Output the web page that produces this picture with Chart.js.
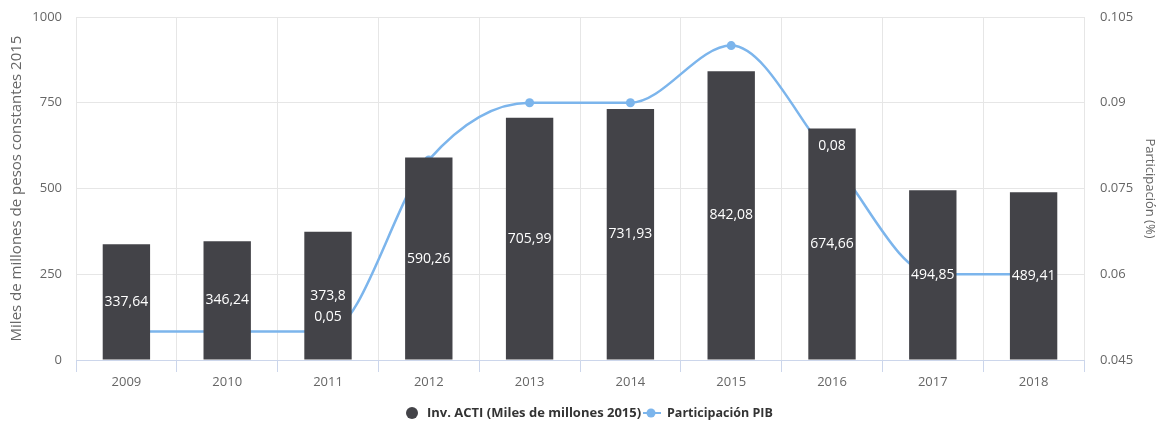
<!DOCTYPE html>
<html>
<head>
<meta charset="utf-8">
<script src="https://cdn.jsdelivr.net/npm/chart.js@4/dist/chart.umd.min.js"></script>
<style>
  html, body { margin: 0; padding: 0; background: #ffffff; }
  #wrap { width: 1160px; height: 427px; position: relative; }
</style>
</head>
<body>
<div id="wrap"><canvas id="c" width="1160" height="427"></canvas></div>
<script>
const categories = ["2009", "2010", "2011", "2012", "2013", "2014", "2015", "2016", "2017", "2018"];
const invActi = [337.64, 346.24, 373.8, 590.26, 705.99, 731.93, 842.08, 674.66, 494.85, 489.41];
const participacionPIB = [0.05, 0.05, 0.05, 0.08, 0.09, 0.09, 0.10, 0.08, 0.06, 0.06];
const leftTicks = ["0", "250", "500", "750", "1000"];
const rightTicks = ["0.045", "0.06", "0.075", "0.09", "0.105"];
const lineLabelShown = [false, false, true, false, false, false, false, true, false, false];
const seriesNames = ["Inv. ACTI (Miles de millones 2015)", "Participación PIB"];

const FONT = "'Open Sans', 'DejaVu Sans', sans-serif";
const BAR_COLOR = "#434348";
const LINE_COLOR = "#7cb5ec";

const fmt = v => String(v).replace('.', ',');

const labelsPlugin = {
  id: 'valueLabels',
  afterDatasetsDraw(chart) {
    const ctx = chart.ctx;
    ctx.save();
    ctx.font = "14px " + FONT;
    ctx.fillStyle = "#ffffff";
    ctx.textAlign = "center";
    ctx.textBaseline = "middle";
    const barMeta = chart.getDatasetMeta(0);
    barMeta.data.forEach((el, i) => {
      const p = el.getProps(['x', 'y', 'base'], true);
      ctx.fillText(fmt(invActi[i]), p.x, (p.y + p.base) / 2);
    });
    const lineMeta = chart.getDatasetMeta(1);
    lineMeta.data.forEach((el, i) => {
      if (!lineLabelShown[i]) return;
      const p = el.getProps(['x', 'y'], true);
      ctx.fillText(fmt(participacionPIB[i]), p.x, p.y - 14);
    });
    ctx.restore();
  }
};

const legendPlugin = {
  id: 'customLegend',
  afterDraw(chart) {
    const ctx = chart.ctx;
    ctx.save();
    const y = 413;
    ctx.font = "bold 13px " + FONT;
    ctx.textBaseline = "middle";
    ctx.textAlign = "left";
    // item 1
    ctx.fillStyle = BAR_COLOR;
    ctx.beginPath();
    ctx.arc(412, y, 6, 0, Math.PI * 2);
    ctx.fill();
    ctx.save();
    ctx.beginPath();
    ctx.rect(420, y - 12, 224, 24);
    ctx.clip();
    ctx.fillStyle = "#333333";
    ctx.fillText(seriesNames[0], 427, y);
    ctx.restore();
    // item 2
    ctx.strokeStyle = LINE_COLOR;
    ctx.lineWidth = 2;
    ctx.beginPath();
    ctx.moveTo(643, y);
    ctx.lineTo(661, y);
    ctx.stroke();
    ctx.fillStyle = LINE_COLOR;
    ctx.beginPath();
    ctx.arc(651, y, 4.5, 0, Math.PI * 2);
    ctx.fill();
    ctx.font = "bold 12.5px " + FONT;
    ctx.fillStyle = "#333333";
    ctx.fillText(seriesNames[1], 667, y);
    ctx.restore();
  }
};

new Chart(document.getElementById('c'), {
  data: {
    labels: categories,
    datasets: [
      {
        type: 'bar',
        label: seriesNames[0],
        data: invActi,
        backgroundColor: BAR_COLOR,
        borderWidth: 0,
        barPercentage: 0.47,
        categoryPercentage: 1.0,
        yAxisID: 'y',
        order: 1
      },
      {
        type: 'line',
        label: seriesNames[1],
        data: participacionPIB,
        borderColor: LINE_COLOR,
        backgroundColor: LINE_COLOR,
        borderWidth: 2.5,
        pointRadius: 4.5,
        pointHoverRadius: 4.5,
        pointBackgroundColor: LINE_COLOR,
        pointBorderWidth: 0,
        cubicInterpolationMode: 'monotone',
        fill: false,
        yAxisID: 'y1',
        order: 2
      }
    ]
  },
  options: {
    responsive: false,
    animation: false,
    devicePixelRatio: 1,
    layout: { padding: { top: 17, bottom: 37, left: 8, right: 2 } },
    plugins: {
      legend: { display: false },
      tooltip: { enabled: false }
    },
    scales: {
      x: {
        offset: true,
        afterFit: s => { s.height = 30; },
        grid: {
          offset: true,
          color: "#e6e6e6",
          tickColor: "#ccd6eb",
          tickLength: 12,
          drawTicks: true
        },
        border: { display: true, color: "#ccd6eb", width: 1 },
        ticks: {
          color: "#666666",
          font: { family: FONT, size: 13 },
          padding: 2,
          maxRotation: 0
        }
      },
      y: {
        position: 'left',
        min: 0,
        max: 1000,
        afterFit: s => { s.width = 68; s.paddingTop = 0; },
        afterBuildTicks: s => { s.ticks = leftTicks.map(t => ({ value: parseFloat(t) })); },
        grid: { color: "#e6e6e6", drawTicks: false },
        border: { display: false },
        ticks: {
          color: "#666666",
          font: { family: FONT, size: 13 },
          padding: 14,
          callback: (v, i) => leftTicks[i]
        },
        title: {
          display: true,
          text: "Miles de millones de pesos constantes 2015",
          color: "#666666",
          font: { family: FONT, size: 15 },
          padding: { top: 0, bottom: 0 }
        }
      },
      y1: {
        position: 'right',
        min: 0.045,
        max: 0.105,
        afterFit: s => { s.width = 74; s.paddingTop = 0; },
        afterBuildTicks: s => { s.ticks = rightTicks.map(t => ({ value: parseFloat(t) })); },
        grid: { display: false, drawTicks: false },
        border: { display: false },
        ticks: {
          color: "#666666",
          font: { family: FONT, size: 13 },
          padding: 16,
          callback: (v, i) => rightTicks[i]
        },
        title: {
          display: true,
          text: "Participación (%)",
          color: "#666666",
          font: { family: FONT, size: 13 },
          padding: { top: 0, bottom: 0 }
        }
      }
    }
  },
  plugins: [labelsPlugin, legendPlugin]
});
</script>
</body>
</html>
